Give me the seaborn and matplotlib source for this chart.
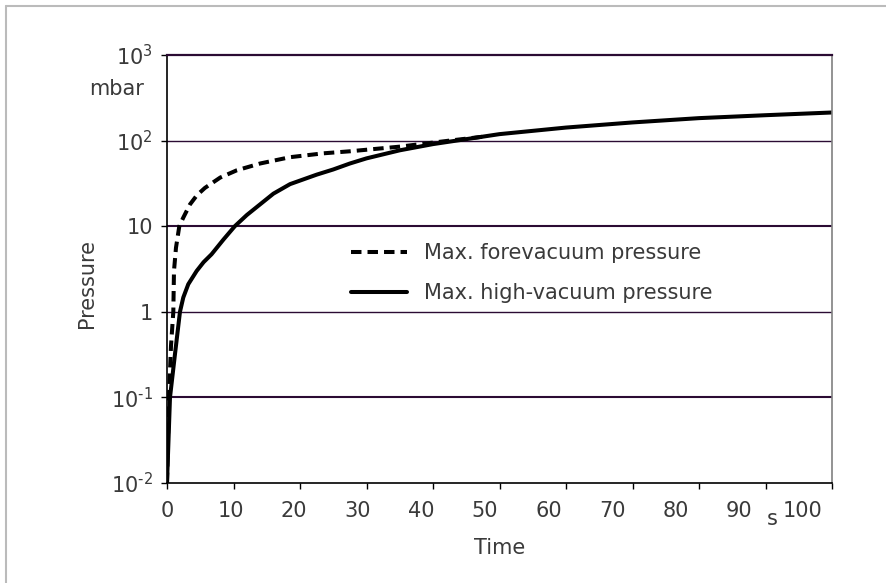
import numpy as np
import pandas as pd
import matplotlib
matplotlib.use("Agg")
import matplotlib.pyplot as plt
import matplotlib.transforms as mtransforms
import seaborn as sns
from matplotlib.lines import Line2D

# ---- data ----
fore_t = [0, 0.3, 0.6, 0.95, 1.05, 1.35, 1.85, 2.45, 3.46, 4.5, 5.7, 8.0, 10.5, 14, 18.5,
          23.5, 27.5, 35, 42.5, 47.5]
fore_p = [0.01, 0.1, 0.4, 1.0, 3.0, 5.6, 10, 12.6, 18, 23, 28, 37, 45, 54, 64,
          71, 75, 85, 100, 111]

high_t = [0, 0.45, 1.2, 1.95, 2.45, 3.2, 4.46, 5.5, 6.7, 8.5, 10.2, 12, 14, 16, 18.5,
          22.5, 25, 27.5, 30, 35, 40, 45, 50, 60, 70, 80, 90, 100]
high_p = [0.01, 0.1, 0.32, 1.0, 1.47, 2.1, 3.0, 3.8, 4.7, 7.0, 10, 13.5, 18, 24, 31,
          40, 46, 54, 62, 77, 91, 104, 119, 142, 163, 183, 198, 213]

series_labels = ["Max. forevacuum pressure", "Max. high-vacuum pressure"]
x_ticks = [0, 10, 20, 30, 40, 50, 60, 70, 80, 90, 100]
y_ticks = [1e-2, 1e-1, 1, 10, 1e2, 1e3]
y_tick_labels = [r"10$^{\text{-}2}$", r"10$^{\text{-}1}$", "1", "10", r"10$^{2}$", r"10$^{3}$"]

df_fore = pd.DataFrame({"Time": fore_t, "Pressure": fore_p})
df_high = pd.DataFrame({"Time": high_t, "Pressure": high_p})

sns.set_style("white")
plt.rcParams["font.family"] = ["DejaVu Sans"]
plt.rcParams["mathtext.default"] = "regular"

txt = "#3a3a3a"
grid_c = "#2b0b33"
fs = 15

fig = plt.figure(figsize=(8.86, 5.83), dpi=100)
ax = fig.add_axes([167 / 886, 1 - 483 / 583, (832 - 167) / 886, (483 - 55) / 583])

sns.lineplot(data=df_high, x="Time", y="Pressure", ax=ax, color="black", lw=2.9,
             estimator=None, sort=False)
sns.lineplot(data=df_fore, x="Time", y="Pressure", ax=ax, color="black", lw=2.9,
             estimator=None, sort=False)
lines = ax.get_lines()
lines[0].set_solid_joinstyle("round")
lines[1].set_dashes([2.6, 1.5])
lines[1].set_dash_capstyle("butt")
lines[1].set_dash_joinstyle("round")

ax.set_yscale("log")
ax.set_xlim(0, 100)
ax.set_ylim(1e-2, 1e3)

# horizontal grid lines
for yv, lw in [(1e-1, 1.5), (1, 1.0), (10, 1.5), (1e2, 1.0)]:
    ax.axhline(yv, color=grid_c, lw=lw, zorder=1)

ax.set_xticks(x_ticks)
ax.set_xticklabels([str(v) for v in x_ticks])
ax.set_yticks(y_ticks)
ax.set_yticklabels(y_tick_labels)
ax.yaxis.set_minor_locator(matplotlib.ticker.NullLocator())
ax.tick_params(axis="both", which="major", direction="out", length=4, width=1,
               color="black", labelsize=fs, labelcolor=txt, bottom=True, left=True)
ax.tick_params(axis="x", pad=9)
ax.tick_params(axis="y", pad=6)

# the reference's x labels are spaced slightly tighter than the ticks
for i, lab in enumerate(ax.get_xticklabels()):
    off = mtransforms.ScaledTranslation(-2.9 * i / 100, 0, fig.dpi_scale_trans)
    lab.set_transform(lab.get_transform() + off)

for s in ["left", "bottom"]:
    ax.spines[s].set_color("black")
    ax.spines[s].set_linewidth(1.2)
ax.spines["top"].set_color(grid_c)
ax.spines["top"].set_linewidth(1.6)
ax.spines["right"].set_color("#808080")
ax.spines["right"].set_linewidth(1.2)

ax.set_xlabel("")
ax.set_ylabel("")
fig.text(500 / 886, 1 - 548 / 583, "Time", ha="center", va="center", fontsize=fs, color=txt)
fig.text(87 / 886, 1 - 283 / 583, "Pressure", ha="center", va="center", rotation=90,
         fontsize=fs, color=txt)
fig.text(144 / 886, 1 - 89 / 583, "mbar", ha="right", va="center", fontsize=fs, color=txt)
fig.text(772 / 886, 1 - 519 / 583, "s", ha="center", va="center", fontsize=fs, color=txt)

handles = [Line2D([], [], color="black", lw=2.9, dashes=[2.6, 1.5]),
           Line2D([], [], color="black", lw=2.9)]
ax.legend(handles, series_labels, loc="center left", frameon=False,
          bbox_to_anchor=(351 / 886, 1 - 273 / 583), bbox_transform=fig.transFigure,
          borderpad=0, borderaxespad=0, handlelength=2.7, handletextpad=0.8,
          labelspacing=0.95, fontsize=fs, labelcolor=txt)

# figure border (top and left)
fig.add_artist(Line2D([5.5 / 886, 5.5 / 886], [0, 1 - 5.5 / 583], transform=fig.transFigure,
                      color="#bbbbbb", lw=1.5))
fig.add_artist(Line2D([5.5 / 886, 1], [1 - 5.5 / 583, 1 - 5.5 / 583], transform=fig.transFigure,
                      color="#bbbbbb", lw=1.5))

fig.savefig("out.png", dpi=100)
